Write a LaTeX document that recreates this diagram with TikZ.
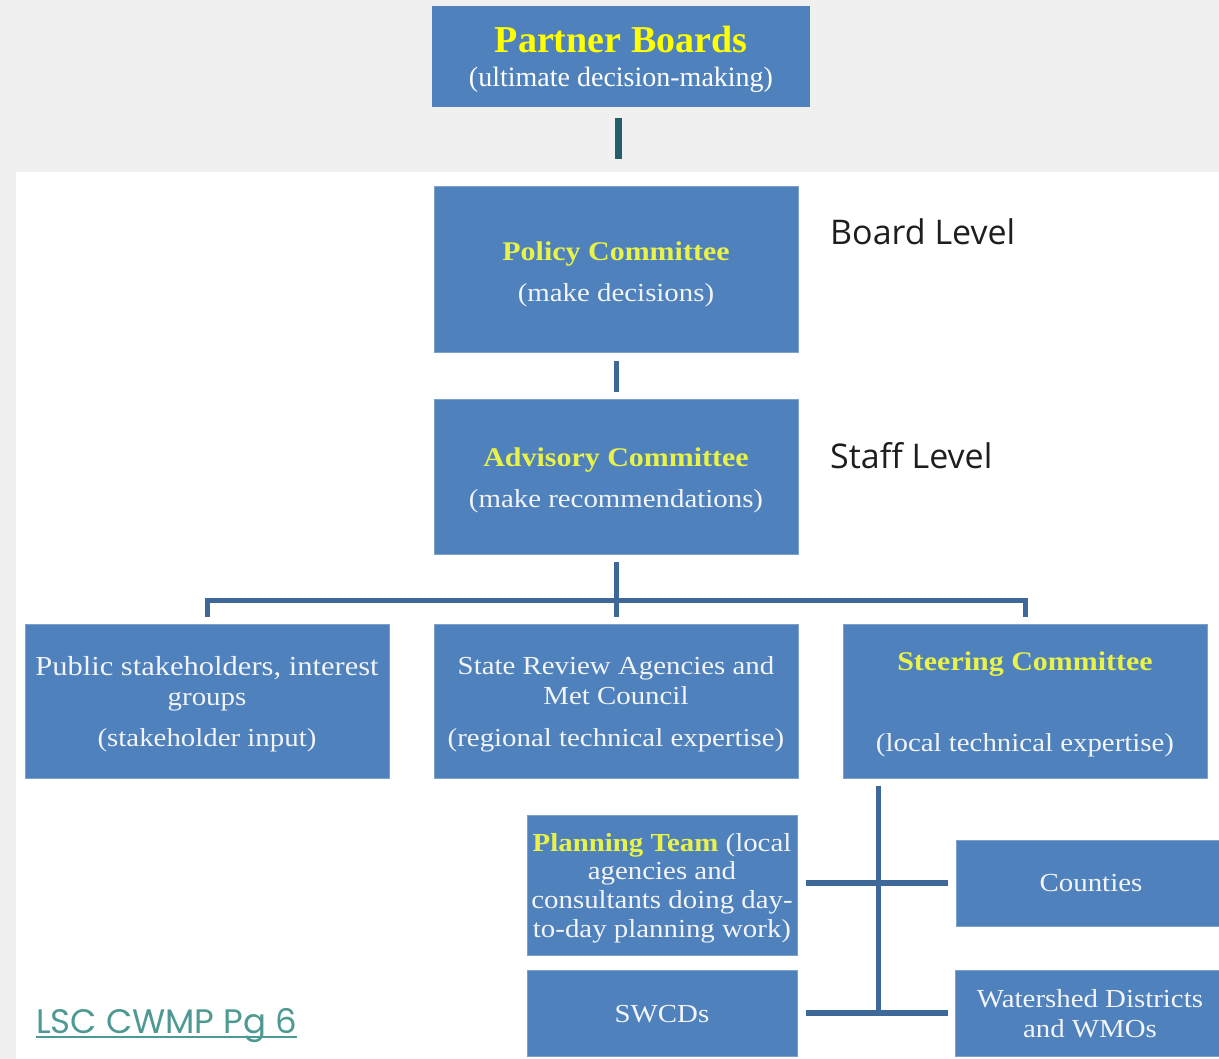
\documentclass[tikz,border=0pt]{standalone}
\usepackage{fontspec}
\setmainfont{Liberation Serif}
\newfontfamily\boxfont[FakeStretch=1.11]{Liberation Serif}
\newfontfamily\levelfont{Open Sans}
\newfontfamily\linkfont{Poppins}
\usetikzlibrary{calc}
\definecolor{boxblue}{RGB}{79,129,189}
\definecolor{boxedge}{RGB}{125,160,205}
\definecolor{connblue}{RGB}{62,104,152}
\definecolor{connteal}{RGB}{34,94,110}
\definecolor{ylw}{RGB}{232,242,72}
\definecolor{pbyellow}{RGB}{255,255,0}
\definecolor{txtwhite}{RGB}{242,244,248}
\definecolor{bggray}{RGB}{240,240,240}
\definecolor{linkteal}{RGB}{78,154,146}
\definecolor{levelblack}{RGB}{30,30,30}
\newcommand{\hdtext}[1]{{\color{ylw}\bfseries\fontsize{27}{30}\selectfont #1}}
\begin{document}
\begin{tikzpicture}[x=1pt,y=-1pt,
  box/.style={fill=boxblue, draw=boxedge, line width=1pt, inner sep=0pt},
  bigbox/.style={box, minimum width=364pt, minimum height=154pt},
  smallbox/.style={box, minimum width=270pt, minimum height=86pt},
  boxtext/.style={inner sep=0pt, align=center, text=txtwhite, font=\boxfont\fontsize{26}{30}\selectfont},
  conn/.style={draw=connblue, line width=5pt},
  hconn/.style={draw=connblue, line width=6pt},
  topconn/.style={draw=connteal, line width=7pt},
  level/.style={anchor=base west, inner sep=0pt, text=levelblack, font=\levelfont\fontsize{34}{40}\selectfont}
]
\useasboundingbox (0,0) rectangle (1219,1059);
\clip (0,0) rectangle (1219,1059);
\fill[bggray] (0,0) rectangle (1219,1059);
\fill[white] (16,172) rectangle (1219,1059);

% Partner Boards
\node[fill=boxblue, inner sep=0pt, minimum width=378pt, minimum height=101pt] (pb) at (621,56.5) {};
\node[anchor=base, inner sep=0pt, text=pbyellow, font=\bfseries\fontsize{38}{40}\selectfont] (pbtitle) at (621,53) {Partner Boards};
\node[anchor=base, inner sep=0pt, text=white, font=\fontsize{28}{30}\selectfont] (pbsub) at (621,87) {(ultimate decision-making)};

% main boxes
\node[bigbox, minimum height=166pt] (pol) at (616,270) {};
\node[boxtext] (polt) at ([yshift=-4pt]pol.center) {\hdtext{Policy Committee}\\[11pt](make decisions)};
\node[bigbox] (adv) at (616,477) {};
\node[boxtext] (advt) at ([yshift=-3pt]adv.center) {\hdtext{Advisory Committee}\\[11pt](make recommendations)};
\node[bigbox] (pub) at (207,701) {};
\node[boxtext] (pubt) at ([yshift=-3.5pt]pub.center) {{\fontsize{27.5}{30}\selectfont Public stakeholders, interest}\\groups\\[11pt](stakeholder input)};
\node[bigbox] (sta) at (616,701) {};
\node[boxtext] (stat) at ([yshift=-3pt]sta.center) {State Review Agencies and\\Met Council\\[12pt](regional technical expertise)};
\node[bigbox] (ste) at (1025,701) {};
\node[boxtext] (stet) at ([yshift=-3pt]ste.center) {\hdtext{Steering Committee}\\[51pt](local technical expertise)};
\node[box, minimum width=270pt, minimum height=140pt] (plan) at (662,885) {};
\node[boxtext, font=\boxfont\fontsize{26}{28.7}\selectfont] (plant) at ([yshift=-3pt]plan.center)
  {{\color{ylw}\bfseries Planning Team} (local\\agencies and\\consultants doing day-\\to-day planning work)};
\node[smallbox] (cty) at (1091,883) {};
\node[boxtext] (ctyt) at (cty.center) {Counties};
\node[smallbox] (swc) at (662,1013.5) {};
\node[boxtext] (swct) at ([yshift=-0.5pt]swc.center) {SWCDs};
\node[smallbox] (wat) at (1090,1013) {};
\node[boxtext] (watt) at ([yshift=-1pt]wat.center) {Watershed Districts\\and WMOs};

% level labels
\node[level] (board) at (830,245) {Board Level};
\node[level] (staff) at (830,468) {Staff Level};

% link
\node[anchor=base west, inner sep=0pt, text=linkteal, font=\linkfont\fontsize{34}{38}\selectfont] (link) at (36,1033) {LSC CWMP Pg 6};
\draw[linkteal, line width=2pt] ([yshift=-4pt]link.base west) -- ([yshift=-4pt]link.base east);

% connectors
\coordinate (pbx) at ([xshift=-3pt]pb.south);
\coordinate (ptop) at (pbx |- pol.north);
\draw[topconn] ([yshift=-11pt]pbx) -- ([yshift=27pt]ptop);
\draw[conn] ([yshift=-8pt]pol.south) -- ([yshift=7pt]adv.north);
\coordinate (bus) at (616,600);
\draw[conn] ([yshift=-7pt]adv.south) -- ([yshift=7pt]sta.north);
\draw[conn] ([yshift=7pt]pub.north) |- (bus) -| ([yshift=7pt]ste.north);
\coordinate (trunkend) at (878,1016);
\draw[conn] ([xshift=-147pt,yshift=-7pt]ste.south) -- (trunkend);
\coordinate (pc) at (plan.east |- cty.west);
\draw[hconn] ([xshift=8pt]pc) -- ([xshift=-8pt]cty.west);
\coordinate (sc) at (swc.east |- wat.west);
\draw[hconn] ([xshift=8pt]sc) -- ([xshift=-7pt]wat.west);
\end{tikzpicture}
\end{document}
